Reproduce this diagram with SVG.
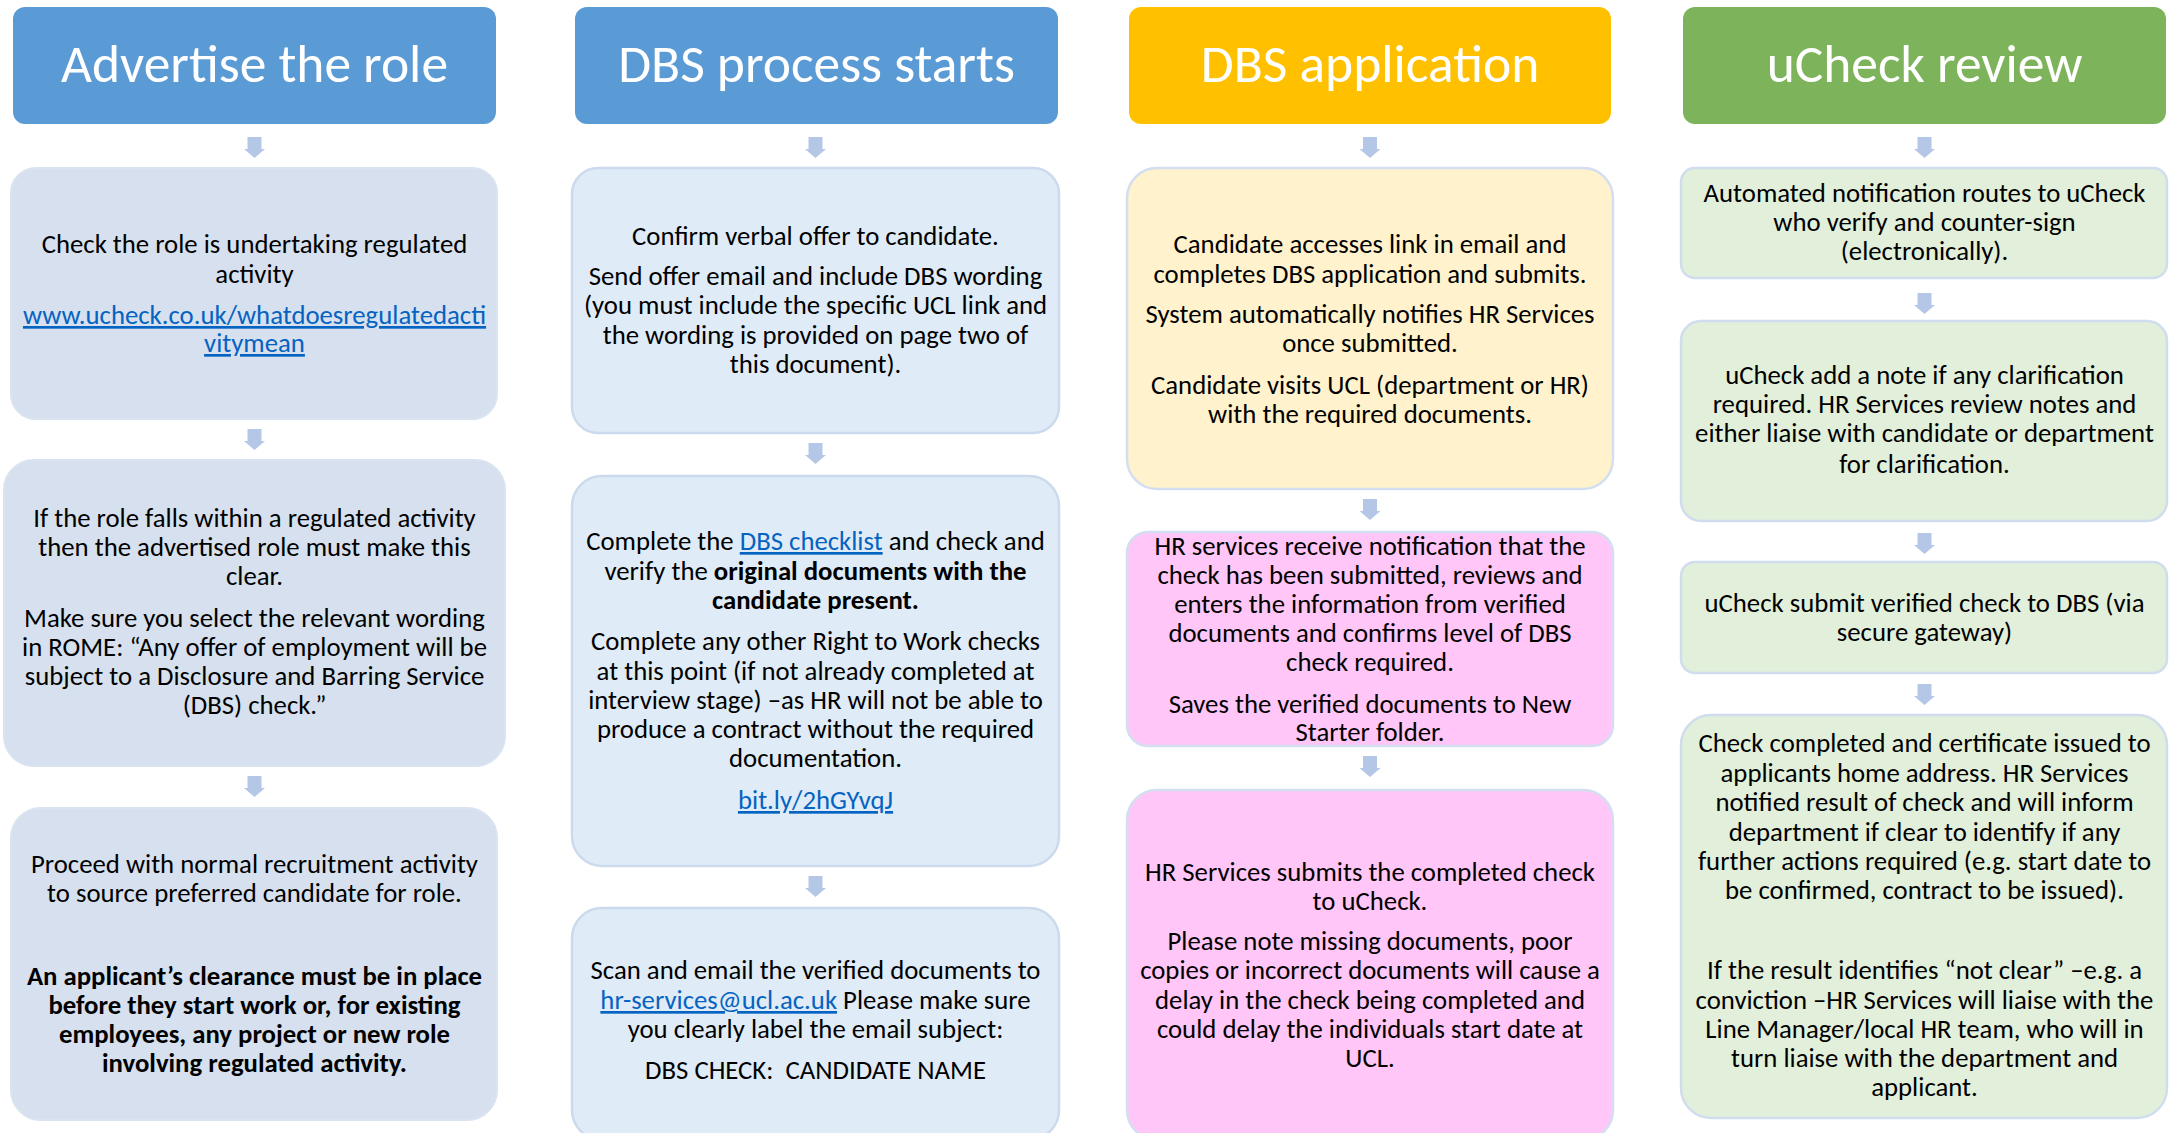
<svg xmlns="http://www.w3.org/2000/svg" width="2177" height="1133" viewBox="0 0 2177 1133">
  <defs>
    <style>
      text { font-family: Carlito, Lato, "Liberation Sans", sans-serif; fill: #000; }
      .hdr { font-size: 53.5px; fill: #fff; text-anchor: middle; }
      .t { font-size: 26.75px; text-anchor: middle; }
      .b { font-weight: bold; }
      .lk { fill: #0563C1; text-decoration: underline; }
      .h-blue { fill: #5B9BD5; }
      .h-gold { fill: #FFC000; }
      .h-green { fill: #7DB35A; }
      .c1 { fill: #D6E0EE; stroke: #DAE3F0; stroke-width: 2; }
      .c2 { fill: #DFEBF7; stroke: #CCDAEE; stroke-width: 2.5; }
      .c3a { fill: #FFF2CC; stroke: #D3DFF0; stroke-width: 2.5; }
      .c3b { fill: #FFC6F7; stroke: #D3DFF0; stroke-width: 2.5; }
      .c4 { fill: #E2EFDA; stroke: #D0DDEE; stroke-width: 2.5; }
      .arrow { fill: #B4C7E7; }
    </style>
    <!-- block arrow, origin at top centre -->
    <path id="down" d="M-7,0 H7 V12 H10.5 L0,21 L-10.5,12 H-7 Z"/>
  </defs>

  <rect width="2177" height="1133" fill="#fff"/>

  <!-- column headers -->
  <g id="hdr-advertise">
    <rect class="h-blue" x="13" y="7" width="483" height="117" rx="12"/>
    <text class="hdr" x="254.5" y="82">Advertise the role</text>
  </g>
  <g id="hdr-dbs-process">
    <rect class="h-blue" x="575" y="7" width="483" height="117" rx="12"/>
    <text class="hdr" x="816.5" y="82">DBS process starts</text>
  </g>
  <g id="hdr-dbs-application">
    <rect class="h-gold" x="1129" y="7" width="482" height="117" rx="12"/>
    <text class="hdr" x="1370" y="82">DBS application</text>
  </g>
  <g id="hdr-ucheck">
    <rect class="h-green" x="1683" y="7" width="483" height="117" rx="12"/>
    <text class="hdr" x="1924.5" y="82">uCheck review</text>
  </g>

  <!-- connectors -->
  <g id="connectors" class="arrow">
    <use href="#down" x="254.5" y="137"/>
    <use href="#down" x="254.5" y="429"/>
    <use href="#down" x="254.5" y="776"/>

    <use href="#down" x="815.5" y="137"/>
    <use href="#down" x="815.5" y="443"/>
    <use href="#down" x="815.5" y="876"/>

    <use href="#down" x="1370" y="137"/>
    <use href="#down" x="1370" y="499"/>
    <use href="#down" x="1370" y="756"/>

    <use href="#down" x="1924.5" y="137"/>
    <use href="#down" x="1924.5" y="293"/>
    <use href="#down" x="1924.5" y="533"/>
    <use href="#down" x="1924.5" y="684"/>
  </g>

  <!-- column 1 -->
  <g id="step-check-regulated">
    <rect class="c1" x="11" y="168" width="486" height="251" rx="25"/>
    <text class="t" x="254.5" y="253">Check the role is undertaking regulated</text>
    <text class="t" x="254.5" y="283">activity</text>
    <text class="t lk" x="254.5" y="324">www.ucheck.co.uk/whatdoesregulatedacti</text>
    <text class="t lk" x="254.5" y="352">vitymean</text>
  </g>
  <g id="step-advert-wording">
    <rect class="c1" x="4" y="460" width="501" height="306" rx="30"/>
    <text class="t" x="254.5" y="527">If the role falls within a regulated activity</text>
    <text class="t" x="254.5" y="556">then the advertised role must make this</text>
    <text class="t" x="254.5" y="585">clear.</text>
    <text class="t" x="254.5" y="627">Make sure you select the relevant wording</text>
    <text class="t" x="254.5" y="656">in ROME: “Any offer of employment will be</text>
    <text class="t" x="254.5" y="685">subject to a Disclosure and Barring Service</text>
    <text class="t" x="254.5" y="714">(DBS) check.”</text>
  </g>
  <g id="step-recruit">
    <rect class="c1" x="11" y="808" width="486" height="312" rx="30"/>
    <text class="t" x="254.5" y="873">Proceed with normal recruitment activity</text>
    <text class="t" x="254.5" y="902">to source preferred candidate for role.</text>
    <text class="t b" x="254.5" y="985">An applicant’s clearance must be in place</text>
    <text class="t b" x="254.5" y="1014">before they start work or, for existing</text>
    <text class="t b" x="254.5" y="1043">employees, any project or new role</text>
    <text class="t b" x="254.5" y="1072">involving regulated activity.</text>
  </g>

  <!-- column 2 -->
  <g id="step-offer">
    <rect class="c2" x="572" y="168" width="487" height="265" rx="26"/>
    <text class="t" x="815.5" y="245">Confirm verbal offer to candidate.</text>
    <text class="t" x="815.5" y="285">Send offer email and include DBS wording</text>
    <text class="t" x="815.5" y="314">(you must include the specific UCL link and</text>
    <text class="t" x="815.5" y="344">the wording is provided on page two of</text>
    <text class="t" x="815.5" y="373">this document).</text>
  </g>
  <g id="step-verify-docs">
    <rect class="c2" x="572" y="476" width="487" height="390" rx="30"/>
    <text class="t" x="815.5" y="550">Complete the <tspan class="lk">DBS checklist</tspan> and check and</text>
    <text class="t" x="815.5" y="580">verify the <tspan class="b">original documents with the</tspan></text>
    <text class="t b" x="815.5" y="609">candidate present.</text>
    <text class="t" x="815.5" y="650">Complete any other Right to Work checks</text>
    <text class="t" x="815.5" y="680">at this point (if not already completed at</text>
    <text class="t" x="815.5" y="709">interview stage) –as HR will not be able to</text>
    <text class="t" x="815.5" y="738">produce a contract without the required</text>
    <text class="t" x="815.5" y="767">documentation.</text>
    <text class="t lk" x="815.5" y="809">bit.ly/2hGYvqJ</text>
  </g>
  <g id="step-email-docs">
    <rect class="c2" x="572" y="908" width="487" height="232" rx="30"/>
    <text class="t" x="815.5" y="979">Scan and email the verified documents to</text>
    <text class="t" x="815.5" y="1009"><tspan class="lk">hr-services@ucl.ac.uk</tspan> Please make sure</text>
    <text class="t" x="815.5" y="1038">you clearly label the email subject:</text>
    <text class="t" x="815.5" y="1079" xml:space="preserve">DBS CHECK:  CANDIDATE NAME</text>
  </g>

  <!-- column 3 -->
  <g id="step-candidate-applies">
    <rect class="c3a" x="1127" y="168" width="486" height="321" rx="30"/>
    <text class="t" x="1370" y="253">Candidate accesses link in email and</text>
    <text class="t" x="1370" y="283">completes DBS application and submits.</text>
    <text class="t" x="1370" y="323">System automatically notifies HR Services</text>
    <text class="t" x="1370" y="352">once submitted.</text>
    <text class="t" x="1370" y="394">Candidate visits UCL (department or HR)</text>
    <text class="t" x="1370" y="423">with the required documents.</text>
  </g>
  <g id="step-hr-review">
    <rect class="c3b" x="1127" y="532" width="486" height="214" rx="21"/>
    <text class="t" x="1370" y="555">HR services receive notification that the</text>
    <text class="t" x="1370" y="584">check has been submitted, reviews and</text>
    <text class="t" x="1370" y="613">enters the information from verified</text>
    <text class="t" x="1370" y="642">documents and confirms level of DBS</text>
    <text class="t" x="1370" y="671">check required.</text>
    <text class="t" x="1370" y="713">Saves the verified documents to New</text>
    <text class="t" x="1370" y="741">Starter folder.</text>
  </g>
  <g id="step-submit-ucheck">
    <rect class="c3b" x="1127" y="790" width="486" height="350" rx="30"/>
    <text class="t" x="1370" y="881">HR Services submits the completed check</text>
    <text class="t" x="1370" y="910">to uCheck.</text>
    <text class="t" x="1370" y="950">Please note missing documents, poor</text>
    <text class="t" x="1370" y="979">copies or incorrect documents will cause a</text>
    <text class="t" x="1370" y="1009">delay in the check being completed and</text>
    <text class="t" x="1370" y="1038">could delay the individuals start date at</text>
    <text class="t" x="1370" y="1067">UCL.</text>
  </g>

  <!-- column 4 -->
  <g id="step-countersign">
    <rect class="c4" x="1681" y="168" width="486" height="110" rx="14"/>
    <text class="t" x="1924.5" y="202">Automated notification routes to uCheck</text>
    <text class="t" x="1924.5" y="231">who verify and counter-sign</text>
    <text class="t" x="1924.5" y="260">(electronically).</text>
  </g>
  <g id="step-clarify">
    <rect class="c4" x="1681" y="321" width="486" height="200" rx="20"/>
    <text class="t" x="1924.5" y="384">uCheck add a note if any clarification</text>
    <text class="t" x="1924.5" y="413">required. HR Services review notes and</text>
    <text class="t" x="1924.5" y="442">either liaise with candidate or department</text>
    <text class="t" x="1924.5" y="473">for clarification.</text>
  </g>
  <g id="step-submit-dbs">
    <rect class="c4" x="1681" y="562" width="486" height="111" rx="14"/>
    <text class="t" x="1924.5" y="612">uCheck submit verified check to DBS (via</text>
    <text class="t" x="1924.5" y="641">secure gateway)</text>
  </g>
  <g id="step-result">
    <rect class="c4" x="1681" y="715" width="486" height="403" rx="30"/>
    <text class="t" x="1924.5" y="752">Check completed and certificate issued to</text>
    <text class="t" x="1924.5" y="782">applicants home address. HR Services</text>
    <text class="t" x="1924.5" y="811">notified result of check and will inform</text>
    <text class="t" x="1924.5" y="841">department if clear to identify if any</text>
    <text class="t" x="1924.5" y="870">further actions required (e.g. start date to</text>
    <text class="t" x="1924.5" y="899">be confirmed, contract to be issued).</text>
    <text class="t" x="1924.5" y="979">If the result identifies “not clear” –e.g. a</text>
    <text class="t" x="1924.5" y="1009">conviction –HR Services will liaise with the</text>
    <text class="t" x="1924.5" y="1038">Line Manager/local HR team, who will in</text>
    <text class="t" x="1924.5" y="1067">turn liaise with the department and</text>
    <text class="t" x="1924.5" y="1096">applicant.</text>
  </g>
</svg>
